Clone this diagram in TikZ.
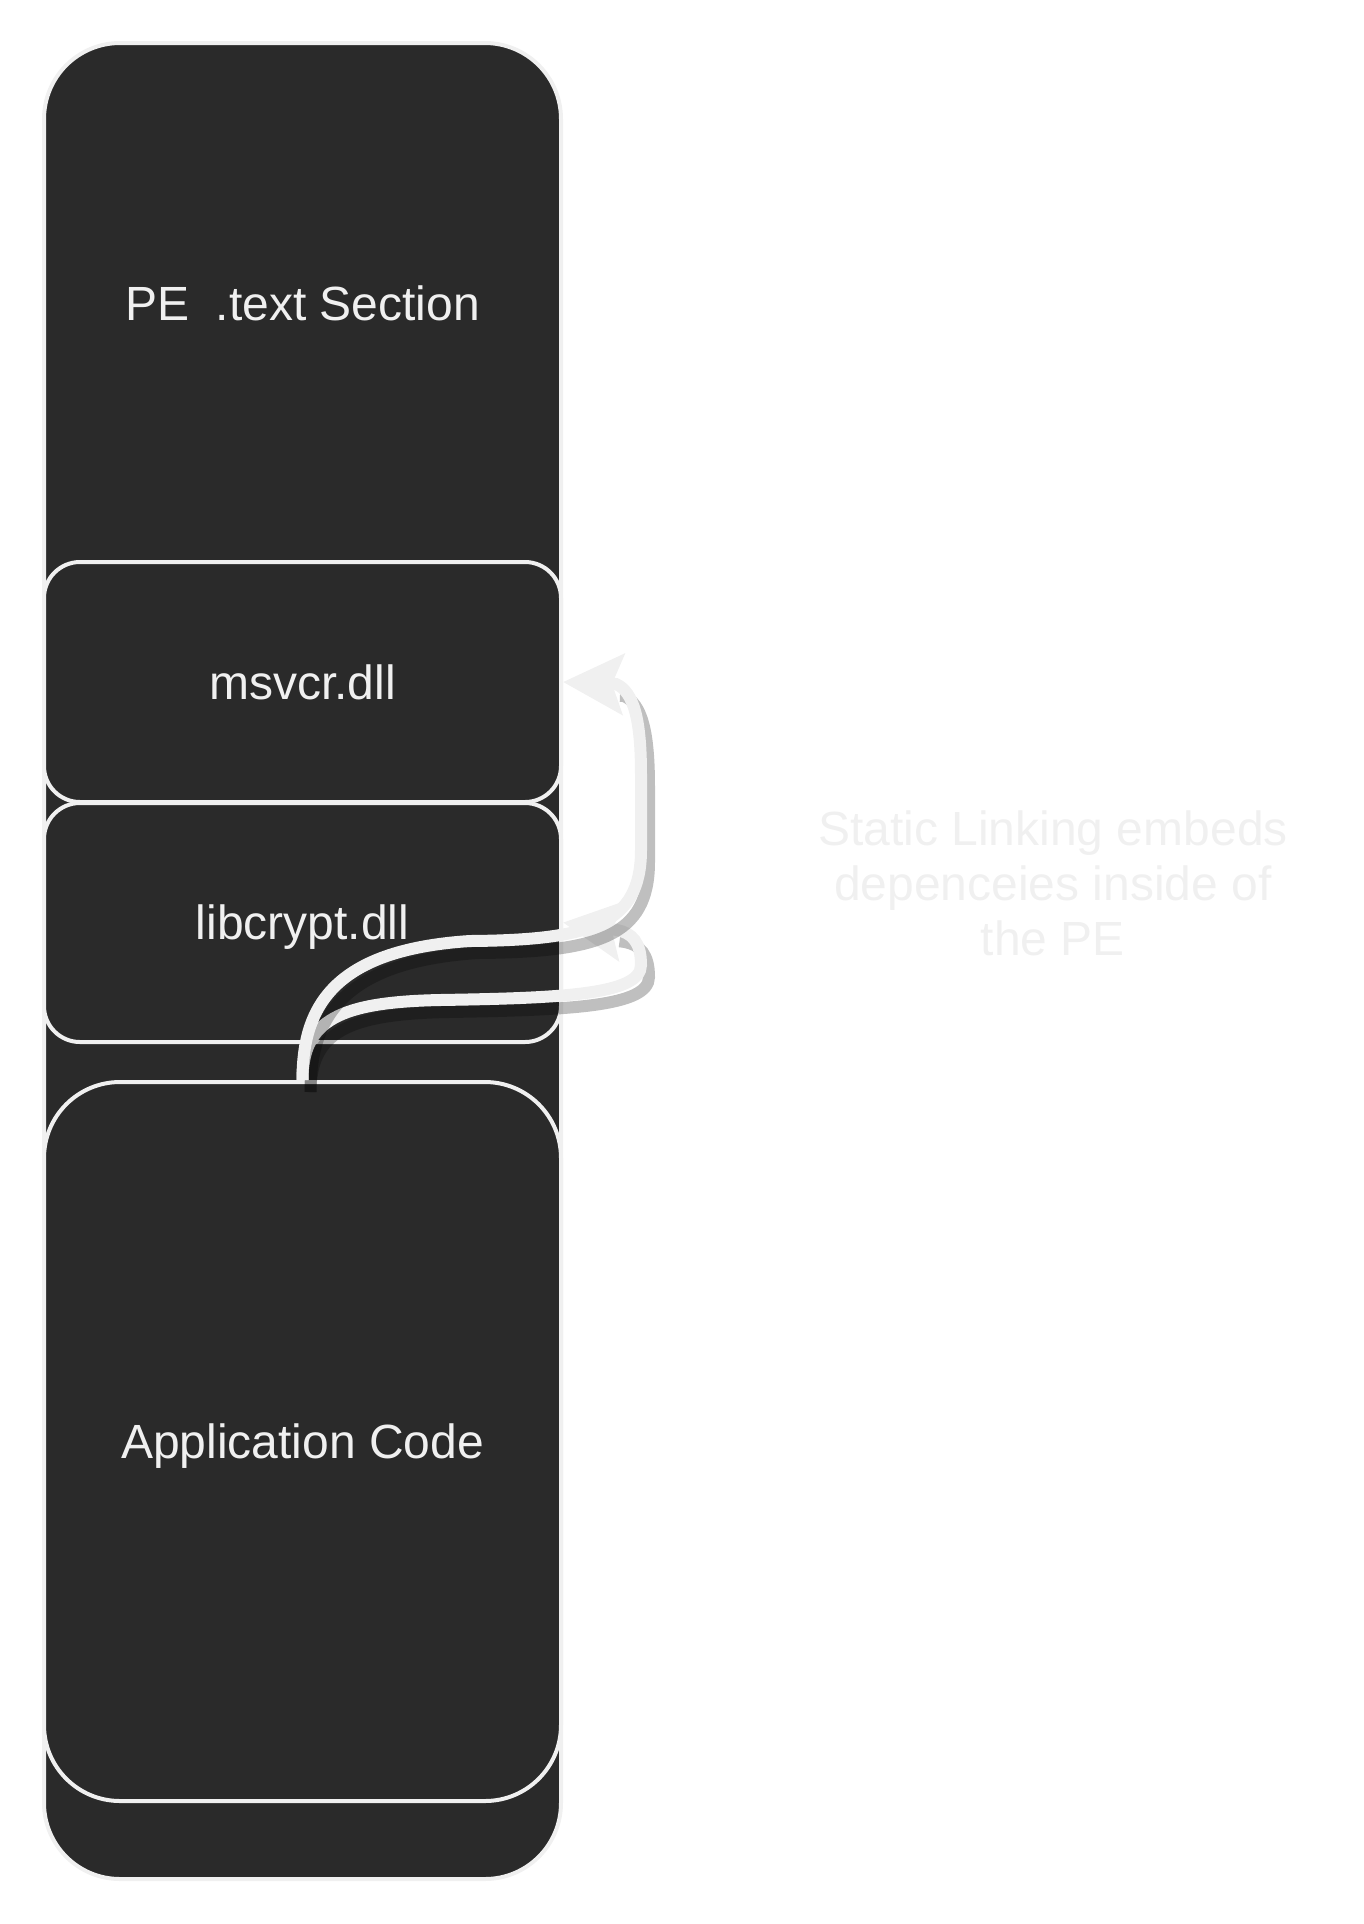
\documentclass[tikz,border=0pt]{standalone}
\usepackage{fontspec}
\setmainfont{Liberation Sans}
\usetikzlibrary{arrows.meta}
\definecolor{boxfill}{HTML}{2A2A2A}
\definecolor{light}{HTML}{F0F0F0}
\tikzset{
  blk/.style={draw=light, line width=2pt, fill=boxfill, text=light,
    font=\fontsize{24}{27.5}\selectfont, inner sep=0pt, text depth=0pt,
    minimum width=258.5pt},
  bigblk/.style={blk, rounded corners=38pt},
  dllblk/.style={blk, rounded corners=18pt},
  lbl/.style={text=light, font=\fontsize{24}{27.5}\selectfont, inner sep=0pt},
  link/.style={draw=light, line width=6pt,
    -{Stealth[length=30pt,width=30pt,inset=5.5pt]}},
  linkshadow/.style={draw=black, draw opacity=0.25, line width=6pt, shorten >=24.5pt},
}
\begin{document}
\begin{tikzpicture}[x=0.5pt,y=-0.5pt]
\useasboundingbox (0,0) rectangle (1364,1924);
% boxes
\node[bigblk, minimum height=918pt] (pe) at (302.5,961) {};
\node[dllblk, minimum height=120pt] (msvcr) at (302.5,682) {msvcr.dll};
\node[dllblk, minimum height=119.5pt] (libcrypt) at (302.5,922.5) {libcrypt.dll};
\node[bigblk, minimum height=359.5pt] (app) at (302.5,1441.5) {Application Code};
\node[lbl, text depth=0pt] (pelabel) at (302.5,303) {PE~~.text Section};
% arrow to libcrypt
\begin{scope}[transform canvas={shift={(4pt,-6pt)}}]
\draw[linkshadow] (app.north) .. controls (302.5,1020) and (340,1002) .. (440,1000)
  .. controls (560,998) and (641,995) .. (641,965)
  .. controls (641,942) and (632,933) .. (617,930) -- (libcrypt.east);
\end{scope}
\draw[link] (app.north) .. controls (302.5,1020) and (340,1002) .. (440,1000)
  .. controls (560,998) and (641,995) .. (641,965)
  .. controls (641,942) and (632,933) .. (617,930) -- (libcrypt.east);
% arrow to msvcr
\begin{scope}[transform canvas={shift={(4pt,-6pt)}}]
\draw[linkshadow] (app.north) .. controls (302.5,1010) and (330,950) .. (470,941)
  .. controls (590,940) and (641,925) .. (641,850) -- (641,775)
  .. controls (641,720) and (634,692) .. (616,684) -- (msvcr.east);
\end{scope}
\draw[link] (app.north) .. controls (302.5,1010) and (330,950) .. (470,941)
  .. controls (590,940) and (641,925) .. (641,850) -- (641,775)
  .. controls (641,720) and (634,692) .. (616,684) -- (msvcr.east);
% side note
\node[lbl, align=center] (note) at (1053,883) {Static Linking embeds\\depenceies inside of\\the PE};
\end{tikzpicture}
\end{document}
